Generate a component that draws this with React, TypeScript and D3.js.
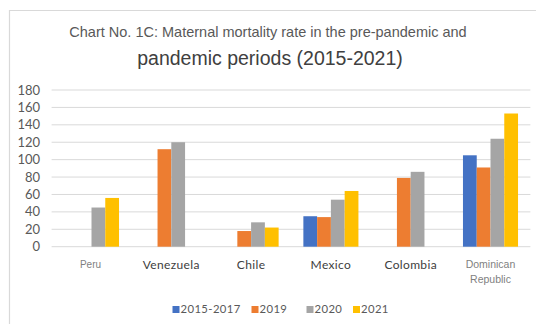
import React from "react";
import * as d3 from "d3";

const countries = ["Peru", "Venezuela", "Chile", "Mexico", "Colombia", "Dominican Republic"];
const periods = ["2015-2017", "2019", "2020", "2021"];
const values2015_2017: (number | null)[] = [null, null, null, 35, null, 105];
const values2019: (number | null)[] = [null, 112, 18, 34, 79, 91];
const values2020: (number | null)[] = [45, 120, 28, 54, 86, 124];
const values2021: (number | null)[] = [56, null, 22, 64, null, 153];
const yTicks = [0, 20, 40, 60, 80, 100, 120, 140, 160, 180];
const colors = ["#4472C4", "#ED7D31", "#A5A5A5", "#FFC000"];

const seriesValues = [values2015_2017, values2019, values2020, values2021];

const W = 536;
const H = 324;
const plotLeft = 51.6;
const plotRight = 530.4;
const yTop = 90;
const yBottom = 246.7;

export default function App() {
  const x = d3.scaleBand<string>().domain(countries).range([plotLeft, plotRight]).paddingInner(0).paddingOuter(0);
  const groupWidth = x.bandwidth() * 0.69;
  const xi = d3
    .scaleBand<string>()
    .domain(periods)
    .range([(x.bandwidth() - groupWidth) / 2, (x.bandwidth() + groupWidth) / 2]);
  const y = d3.scaleLinear().domain([0, 180]).range([yBottom, yTop]);

  const labelFont = "Lato, 'Open Sans', sans-serif";
  const arialFont = "'Liberation Sans', Arial, sans-serif";

  const legendItems = [
    { label: periods[0], x: 172.5 },
    { label: periods[1], x: 251.5 },
    { label: periods[2], x: 306.5 },
    { label: periods[3], x: 353 },
  ];

  return (
    <svg
      width={W}
      height={H}
      style={{ position: "absolute", left: 0, top: 0, background: "#fff" }}
    >
      <rect x={0} y={0} width={W} height={H} fill="#fff" />
      {/* chart frame */}
      <path d={`M9.5,${H} V10.5 H${W}`} fill="none" stroke="#d9d9d9" strokeWidth={1.2} />

      {/* title */}
      <text
        x={268}
        y={37}
        textAnchor="middle"
        fontFamily={arialFont}
        fontSize={14.5}
        fill="#595959"
      >
        Chart No. 1C: Maternal mortality rate in the pre-pandemic and
      </text>
      <text
        x={270}
        y={65}
        textAnchor="middle"
        fontFamily={arialFont}
        fontSize={19.5}
        fill="#404040"
      >
        pandemic periods (2015-2021)
      </text>

      {/* gridlines and y ticks */}
      {yTicks.map((t) => (
        <g key={t}>
          <line
            x1={plotLeft}
            x2={plotRight}
            y1={y(t)}
            y2={y(t)}
            stroke="#d9d9d9"
            strokeWidth={1}
          />
          <text
            x={40}
            y={y(t) + 4.5}
            textAnchor="end"
            fontFamily={labelFont}
            fontSize={13}
            fill="#595959"
          >
            {t}
          </text>
        </g>
      ))}

      {/* bars */}
      {seriesValues.map((vals, si) =>
        vals.map((v, ci) =>
          v == null ? null : (
            <rect
              key={`${si}-${ci}`}
              x={(x(countries[ci]) ?? 0) + (xi(periods[si]) ?? 0)}
              y={y(v)}
              width={xi.bandwidth()}
              height={y(0) - y(v)}
              fill={colors[si]}
            />
          )
        )
      )}

      {/* category labels */}
      {countries.map((c) => {
        const cx = (x(c) ?? 0) + x.bandwidth() / 2;
        if (c === "Peru") {
          return (
            <text key={c} x={cx - 1} y={268} textAnchor="middle" fontFamily={arialFont} fontSize={10} fill="#7f7f7f">
              {c}
            </text>
          );
        }
        if (c === "Dominican Republic") {
          return (
            <text key={c} textAnchor="middle" fontFamily={arialFont} fontSize={10.5} fill="#7f7f7f">
              <tspan x={cx} y={268}>Dominican</tspan>
              <tspan x={cx} y={283}>Republic</tspan>
            </text>
          );
        }
        return (
          <text key={c} x={cx} y={269} textAnchor="middle" fontFamily={labelFont} fontSize={12} fill="#404040" letterSpacing={0.35}>
            {c}
          </text>
        );
      })}

      {/* legend */}
      {legendItems.map((item, i) => (
        <g key={item.label}>
          <rect x={item.x} y={306} width={7} height={7} fill={colors[i]} />
          <text x={item.x + 8} y={313.3} fontFamily={labelFont} fontSize={11.3} fill="#595959" letterSpacing={0.4}>
            {item.label}
          </text>
        </g>
      ))}
    </svg>
  );
}
